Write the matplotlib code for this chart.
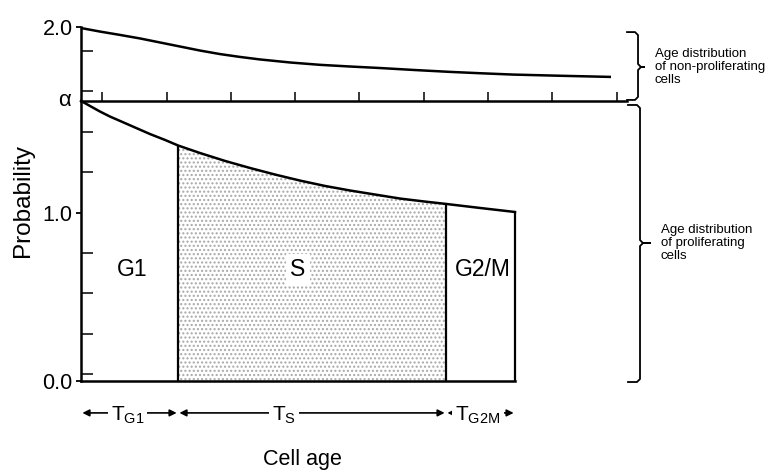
import numpy as np
import matplotlib.pyplot as plt

plt.rcParams['font.family'] = ['Liberation Sans', 'DejaVu Sans']
plt.rcParams['mathtext.fontset'] = 'custom'
plt.rcParams['mathtext.rm'] = 'Liberation Sans'
plt.rcParams['hatch.linewidth'] = 1.0

# cell age (arbitrary units) and probability
upper_age = np.array([0, 0.295, 0.607, 0.918, 1.229, 1.540, 1.851, 2.162, 2.473, 2.784,
                      3.251, 3.717, 4.184, 4.650, 5.194, 5.739, 6.205, 6.718, 7.449, 8.243])
upper_p = np.array([2.101, 2.080, 2.060, 2.039, 2.015, 1.991, 1.967, 1.946, 1.929, 1.914,
                    1.896, 1.882, 1.872, 1.863, 1.851, 1.840, 1.832, 1.824, 1.817, 1.810])

lower_age = np.array([0, 0.140, 0.295, 0.451, 0.607, 0.840, 1.073, 1.306, 1.509, 1.851, 2.240,
                      2.628, 3.017, 3.406, 3.795, 4.183, 4.572, 4.961, 5.350, 5.677, 6.205, 6.750])
lower_p = np.array([1.667, 1.637, 1.604, 1.574, 1.548, 1.509, 1.470, 1.435, 1.402, 1.357, 1.310,
                    1.268, 1.229, 1.193, 1.161, 1.134, 1.110, 1.086, 1.068, 1.054, 1.030, 1.006])

phase_edges = [0, 1.509, 5.677, 6.750]
phase_names = ['G1', 'S', 'G2/M']
phase_times = [r'T$_\mathregular{G1}$', r'T$_\mathregular{S}$', r'T$_\mathregular{G2M}$']

alpha = 1.667
age_ticks = [0.33, 1.33, 2.33, 3.33, 4.33, 5.33, 6.33, 7.33, 8.33]
prob_ticks = [0, 1, 2.107]
prob_labels = ['0.0', '1.0', '2.0']
prob_minor = [0.042, 0.28, 0.524, 0.762, 1.244, 1.482, 1.726, 1.964]

fig = plt.figure(figsize=(7.65, 4.74), dpi=100)
ax = fig.add_axes([0, 0, 1, 1])
ax.set_xlim(-1.26, 10.638)
ax.set_ylim(-0.5536, 2.2679)

# unit sizes of one pixel
px = 1 / 64.3
py = 1 / 168

for s in ['top', 'right']:
    ax.spines[s].set_visible(False)
ax.spines['left'].set_position(('data', 0))
ax.spines['bottom'].set_position(('data', 0))
ax.spines['left'].set_bounds(0, prob_ticks[-1])
ax.spines['bottom'].set_bounds(0, phase_edges[-1])
ax.spines['left'].set_linewidth(1.8)
ax.spines['bottom'].set_linewidth(1.8)
ax.set_xticks([])
ax.set_yticks(prob_ticks)
ax.set_yticklabels(prob_labels, fontsize=15.5)
ax.set_yticks(prob_minor, minor=True)
ax.tick_params(axis='y', which='major', direction='out', length=3.6, width=1.3, pad=2.5)
ax.tick_params(axis='y', which='minor', direction='in', length=8.6, width=1.1)

# upper curve (non-proliferating)
ax.plot(upper_age, upper_p, color='black', lw=1.8, solid_capstyle='butt')

# alpha line with ticks
ax.plot([0, 8.49], [alpha, alpha], color='black', lw=1.8)
ax.vlines(age_ticks, alpha, alpha + 9 * py, color='black', lw=1.1)
ax.text(-0.25, alpha, 'α', fontsize=16, ha='center', va='center')

# lower curve (proliferating)
ax.plot(lower_age, lower_p, color='black', lw=1.8)
mask = (lower_age >= phase_edges[1]) & (lower_age <= phase_edges[2])
ax.fill_between(lower_age[mask], 0, lower_p[mask], facecolor='white',
                edgecolor='#a8a8a8', hatch='....', linewidth=0)
edge_p = [lower_p[lower_age == e][0] for e in phase_edges[1:]]
ax.vlines(phase_edges[1:], 0, edge_p, color='black', lw=1.6)

# phase labels
label_x = [0.79, 3.375, 6.25]
for x, name in zip(label_x, phase_names):
    bb = dict(boxstyle='square,pad=0.2', fc='white', ec='none') if name == 'S' else None
    ax.text(x, 0.661, name, fontsize=16.5, ha='center', va='center', bbox=bb)

# duration arrows
arrow_y = -0.190
time_x = [0.723, 3.157, 6.17]
for i in range(3):
    ax.annotate('', xy=(phase_edges[i], arrow_y), xytext=(phase_edges[i + 1], arrow_y),
                arrowprops=dict(arrowstyle='<|-|>', color='black', lw=1.2,
                                mutation_scale=10, shrinkA=1, shrinkB=1))
    ax.text(time_x[i], -0.232, phase_times[i], fontsize=15, ha='center', va='baseline',
            bbox=dict(boxstyle='square,pad=0.15', fc='white', ec='none'))

ax.text(3.437, -0.470, 'Cell age', fontsize=15.5, ha='center', va='center')
ax.text(-0.902, 1.077, 'Probability', fontsize=17.5, ha='center', va='center', rotation=90)


def brace(x, top, bottom, mid, hook, tip):
    r = 3
    xs = [x - hook * px, x - r * px, x, x, x + r * px, x + tip * px, x + r * px, x, x, x - r * px, x - hook * px]
    ys = [top, top, top - r * py, mid + r * py, mid, mid, mid, mid - r * py, bottom + r * py, bottom, bottom]
    ax.plot(xs, ys, color='black', lw=1.3, solid_joinstyle='round')


brace(8.663, 2.077, 1.673, 1.869, 11, 6)
brace(8.694, 1.643, -0.006, 0.821, 12, 10)

ax.text(8.927, 1.869, 'Age distribution\nof non-proliferating\ncells', fontsize=9.5,
        ha='left', va='center', linespacing=1.15)
ax.text(9.02, 0.821, 'Age distribution\nof proliferating\ncells', fontsize=9.5,
        ha='left', va='center', linespacing=1.15)

fig.savefig('out.png', dpi=100)
